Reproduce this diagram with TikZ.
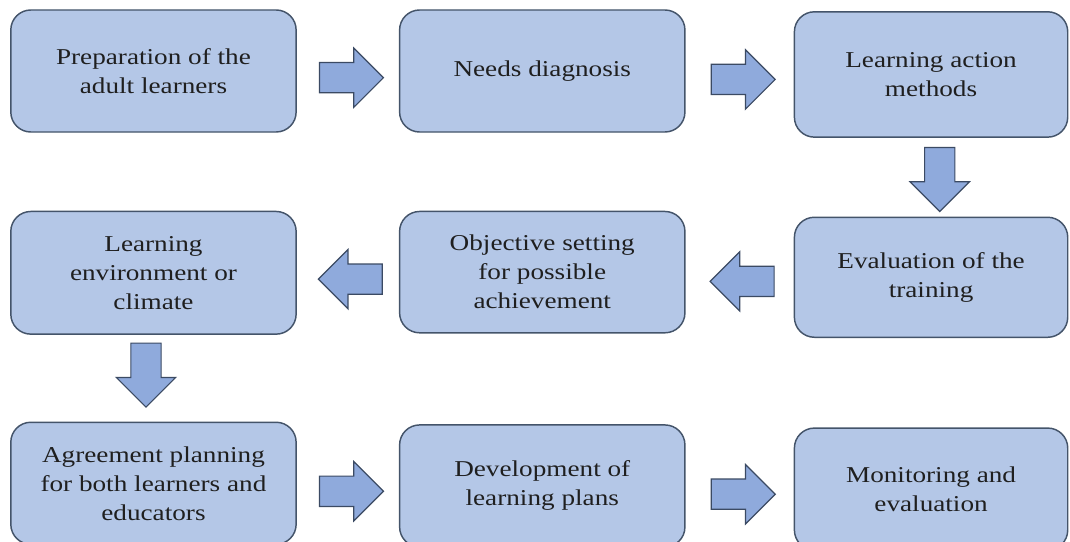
\documentclass[tikz,border=0pt]{standalone}
\usepackage{fontspec}
\setmainfont[FakeStretch=1.2]{Liberation Serif}
\usetikzlibrary{positioning, shapes.arrows, calc}

\definecolor{boxfill}{HTML}{B4C7E7}
\definecolor{boxline}{HTML}{44546A}
\definecolor{arrowfill}{HTML}{8FAADC}
\definecolor{arrowline}{HTML}{3B4A63}

\begin{document}
\begin{tikzpicture}[
  font=\fontsize{17}{21.75}\selectfont,
  stage/.style={draw=boxline, line width=1.1pt, fill=boxfill, rounded corners=15pt,
                align=center, minimum width=214pt, minimum height=91.5pt, text=black!88},
  narrow/.style={minimum width=205pt},
  blockarrow/.style={single arrow, draw=arrowline, line width=0.9pt, fill=arrowfill,
                     minimum height=48pt, inner xsep=0pt, inner ysep=10.9pt,
                     single arrow head extend=10.9pt},
  goright/.style={xshift=-3pt, yshift=-5pt},
  goleft/.style={shape border rotate=180, xshift=7.5pt, yshift=-5pt},
  godown/.style={shape border rotate=270, inner xsep=10.9pt, inner ysep=0pt},
]
\useasboundingbox (0,0) rectangle (802.5pt,-406.5pt);
% ---- top row ----
\node[stage] (prep) at (115.1pt,-53.25pt) {Preparation of the\\adult learners};
\node[stage, right=76.5pt of prep] (needs) {Needs diagnosis};
\node[stage, narrow, minimum height=94pt, right=81pt of needs, yshift=-2.6pt] (methods) {Learning action\\methods};
% ---- middle row ----
\node[stage, minimum height=92pt, below=58.5pt of prep] (climate) {Learning\\environment or\\climate};
\node[stage, minimum height=91pt, below=58.5pt of needs] (objective) {Objective setting\\for possible\\achievement};
\node[stage, narrow, minimum height=90pt, below=59pt of methods] (evaluation) {Evaluation of the\\training};
% ---- bottom row ----
\node[stage, below=65pt of climate] (agreement) {Agreement planning\\for both learners and\\educators};
\node[stage, below=68pt of objective] (plans) {Development of\\learning plans};
\node[stage, narrow, below=67pt of evaluation] (monitor) {Monitoring and\\evaluation};
% ---- block arrows ----
\node[blockarrow, goright] (toneeds) at ($(prep.east)!0.5!(needs.west)$) {};
\node[blockarrow, goright] (tomethods) at ($(needs.east)!0.5!(methods.west)$) {};
\node[blockarrow, godown, xshift=6.5pt, yshift=4pt] (toevaluation) at ($(methods.south)!0.5!(evaluation.north)$) {};
\node[blockarrow, goleft] (toobjective) at ($(evaluation.west)!0.5!(objective.east)$) {};
\node[blockarrow, goleft] (toclimate) at ($(objective.west)!0.5!(climate.east)$) {};
\node[blockarrow, godown, xshift=-5.6pt, yshift=8pt] (toagreement) at ($(climate.south)!0.5!(agreement.north)$) {};
\node[blockarrow, goright] (toplans) at ($(agreement.east)!0.5!(plans.west)$) {};
\node[blockarrow, goright] (tomonitor) at ($(plans.east)!0.5!(monitor.west)$) {};
\end{tikzpicture}
\end{document}
